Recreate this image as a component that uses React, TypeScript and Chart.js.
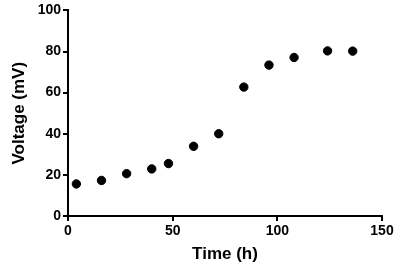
import React, { useEffect, useRef } from "react";
import { Chart, registerables } from "chart.js";

Chart.register(...registerables);

const timeHours = [4, 16, 28, 40, 48, 60, 72, 84, 96, 108, 124, 136];
const voltageMv = [15.6, 17.3, 20.6, 22.9, 25.5, 33.9, 40.0, 62.7, 73.4, 77.1, 80.3, 80.2];
const xTicks = [0, 50, 100, 150];
const yTicks = [0, 20, 40, 60, 80, 100];

export default function App() {
  const ref = useRef<HTMLCanvasElement | null>(null);
  useEffect(() => {
    if (!ref.current) return;
    const font = "'Liberation Sans', Arial, sans-serif";
    const chart = new Chart(ref.current, {
      type: "scatter",
      data: {
        datasets: [
          {
            data: timeHours.map((t, i) => ({ x: t, y: voltageMv[i] })),
            backgroundColor: "#000",
            borderColor: "#000",
            pointRadius: 4.2,
            pointHoverRadius: 4.2,
          },
        ],
      },
      options: {
        responsive: false,
        animation: false,
        layout: { padding: { top: 9, right: 18, left: 0, bottom: 0 } },
        plugins: { legend: { display: false }, tooltip: { enabled: false } },
        scales: {
          x: {
            type: "linear",
            min: 0,
            max: 150,
            afterFit: (s: any) => { s.height = 54; },
            afterBuildTicks: (s: any) => { s.ticks = xTicks.map((v) => ({ value: v })); },
            border: { display: true, color: "#000", width: 2 },
            grid: { display: true, drawOnChartArea: false, drawTicks: true, tickLength: 5, color: "#000", lineWidth: 2 },
            ticks: { color: "#000", font: { family: font, size: 14, weight: "bold" }, padding: 2, maxRotation: 0 },
            title: { display: true, text: "Time (h)", color: "#000", font: { family: font, size: 17, weight: "bold" }, padding: { top: 4, bottom: 5 } },
          },
          y: {
            type: "linear",
            min: 0,
            max: 100,
            afterFit: (s: any) => { s.width = 68; },
            afterBuildTicks: (s: any) => { s.ticks = yTicks.map((v) => ({ value: v })); },
            border: { display: true, color: "#000", width: 2 },
            grid: { display: true, drawOnChartArea: false, drawTicks: true, tickLength: 5, color: "#000", lineWidth: 2 },
            ticks: { color: "#000", font: { family: font, size: 14, weight: "bold" }, padding: 2 },
            title: { display: true, text: "Voltage (mV)", color: "#000", font: { family: font, size: 17, weight: "bold" }, padding: { top: 9.5, bottom: 4 } },
          },
        },
      },
    } as any);
    return () => chart.destroy();
  }, []);
  return (
    <div style={{ position: "absolute", left: 0, top: 0, width: 400, height: 270, background: "#fff" }}>
      <canvas ref={ref} width={400} height={270} />
    </div>
  );
}
